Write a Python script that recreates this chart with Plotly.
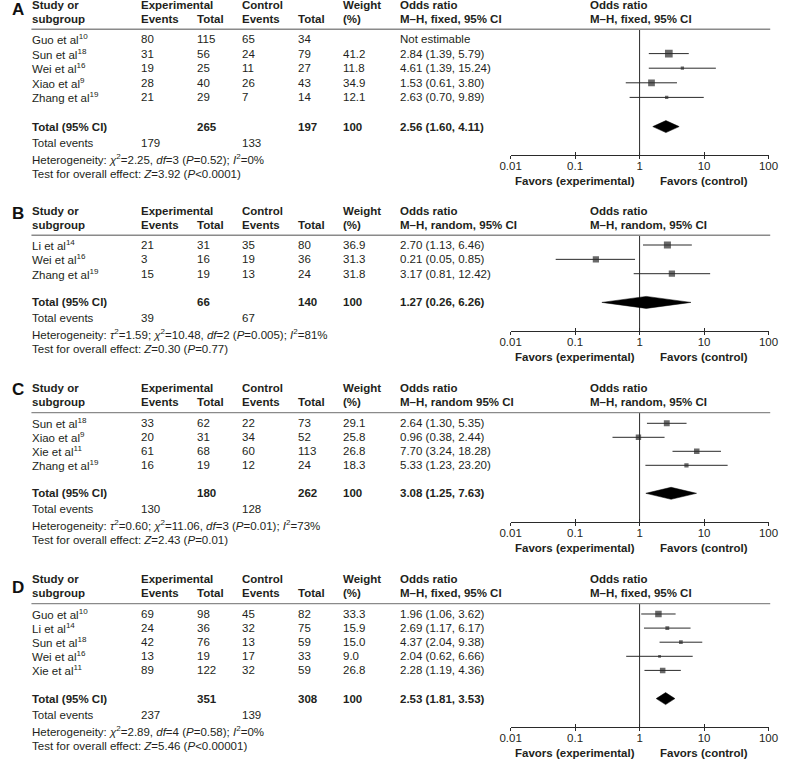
import math
import plotly.graph_objects as go

W, H = 788, 760

# ---------------- data ----------------
A_study = ["Guo et al", "Sun et al", "Wei et al", "Xiao et al", "Zhang et al"]
A_ref = ["10", "18", "16", "9", "19"]
A_exp_events = [80, 31, 19, 28, 21]
A_exp_total = [115, 56, 25, 40, 29]
A_ctl_events = [65, 24, 11, 26, 7]
A_ctl_total = [34, 79, 27, 43, 14]
A_weight = [None, 41.2, 11.8, 34.9, 12.1]
A_or = [None, 2.84, 4.61, 1.53, 2.63]
A_lo = [None, 1.39, 1.39, 0.61, 0.70]
A_hi = [None, 5.79, 15.24, 3.80, 9.89]
A_totals = [265, 197, 100]
A_total_or = [2.56, 1.60, 4.11]
A_total_events = [179, 133]
A_method = ["M–H, fixed, 95% CI", "M–H, fixed, 95% CI"]
A_het = "Heterogeneity: <i>χ</i><sup>2</sup>=2.25, <i>df</i>=3 (<i>P</i>=0.52); <i>I</i><sup>2</sup>=0%"
A_test = "Test for overall effect: <i>Z</i>=3.92 (<i>P</i>&lt;0.0001)"

B_study = ["Li et al", "Wei et al", "Zhang et al"]
B_ref = ["14", "16", "19"]
B_exp_events = [21, 3, 15]
B_exp_total = [31, 16, 19]
B_ctl_events = [35, 19, 13]
B_ctl_total = [80, 36, 24]
B_weight = [36.9, 31.3, 31.8]
B_or = [2.70, 0.21, 3.17]
B_lo = [1.13, 0.05, 0.81]
B_hi = [6.46, 0.85, 12.42]
B_totals = [66, 140, 100]
B_total_or = [1.27, 0.26, 6.26]
B_total_events = [39, 67]
B_method = ["M–H, random, 95% CI", "M–H, random, 95% CI"]
B_het = ("Heterogeneity: <i>τ</i><sup>2</sup>=1.59; <i>χ</i><sup>2</sup>=10.48, <i>df</i>=2 "
         "(<i>P</i>=0.005); <i>I</i><sup>2</sup>=81%")
B_test = "Test for overall effect: <i>Z</i>=0.30 (<i>P</i>=0.77)"

C_study = ["Sun et al", "Xiao et al", "Xie et al", "Zhang et al"]
C_ref = ["18", "9", "11", "19"]
C_exp_events = [33, 20, 61, 16]
C_exp_total = [62, 31, 68, 19]
C_ctl_events = [22, 34, 60, 12]
C_ctl_total = [73, 52, 113, 24]
C_weight = [29.1, 25.8, 26.8, 18.3]
C_or = [2.64, 0.96, 7.70, 5.33]
C_lo = [1.30, 0.38, 3.24, 1.23]
C_hi = [5.35, 2.44, 18.28, 23.20]
C_totals = [180, 262, 100]
C_total_or = [3.08, 1.25, 7.63]
C_total_events = [130, 128]
C_method = ["M–H, random 95% CI", "M–H, random, 95% CI"]
C_het = ("Heterogeneity: <i>τ</i><sup>2</sup>=0.60; <i>χ</i><sup>2</sup>=11.06, <i>df</i>=3 "
         "(<i>P</i>=0.01); <i>I</i><sup>2</sup>=73%")
C_test = "Test for overall effect: <i>Z</i>=2.43 (<i>P</i>=0.01)"

D_study = ["Guo et al", "Li et al", "Sun et al", "Wei et al", "Xie et al"]
D_ref = ["10", "14", "18", "16", "11"]
D_exp_events = [69, 24, 42, 13, 89]
D_exp_total = [98, 36, 76, 19, 122]
D_ctl_events = [45, 32, 13, 17, 32]
D_ctl_total = [82, 75, 59, 33, 59]
D_weight = [33.3, 15.9, 15.0, 9.0, 26.8]
D_or = [1.96, 2.69, 4.37, 2.04, 2.28]
D_lo = [1.06, 1.17, 2.04, 0.62, 1.19]
D_hi = [3.62, 6.17, 9.38, 6.66, 4.36]
D_totals = [351, 308, 100]
D_total_or = [2.53, 1.81, 3.53]
D_total_events = [237, 139]
D_method = ["M–H, fixed, 95% CI", "M–H, fixed, 95% CI"]
D_het = "Heterogeneity: <i>χ</i><sup>2</sup>=2.89, <i>df</i>=4 (<i>P</i>=0.58); <i>I</i><sup>2</sup>=0%"
D_test = "Test for overall effect: <i>Z</i>=5.46 (<i>P</i>&lt;0.00001)"

tick_vals = [0.01, 0.1, 1, 10, 100]
tick_text = ["0.01", "0.1", "1", "10", "100"]
favors = ["Favors (experimental)", "Favors (control)"]
favors_at = [0.1, 10]
NULL_OR = 1

panels = [
    dict(letter="A", study=A_study, ref=A_ref, ee=A_exp_events, et=A_exp_total, ce=A_ctl_events,
         ct=A_ctl_total, w=A_weight, orv=A_or, lo=A_lo, hi=A_hi, tot=A_totals, tor=A_total_or,
         tev=A_total_events, method=A_method, het=A_het, test=A_test),
    dict(letter="B", study=B_study, ref=B_ref, ee=B_exp_events, et=B_exp_total, ce=B_ctl_events,
         ct=B_ctl_total, w=B_weight, orv=B_or, lo=B_lo, hi=B_hi, tot=B_totals, tor=B_total_or,
         tev=B_total_events, method=B_method, het=B_het, test=B_test),
    dict(letter="C", study=C_study, ref=C_ref, ee=C_exp_events, et=C_exp_total, ce=C_ctl_events,
         ct=C_ctl_total, w=C_weight, orv=C_or, lo=C_lo, hi=C_hi, tot=C_totals, tor=C_total_or,
         tev=C_total_events, method=C_method, het=C_het, test=C_test),
    dict(letter="D", study=D_study, ref=D_ref, ee=D_exp_events, et=D_exp_total, ce=D_ctl_events,
         ct=D_ctl_total, w=D_weight, orv=D_or, lo=D_lo, hi=D_hi, tot=D_totals, tor=D_total_or,
         tev=D_total_events, method=D_method, het=D_het, test=D_test),
]

# ---------------- layout geometry (pixels) ----------------
geom = [
    dict(head=5.0, first=39.0, step=14.6, letter_y=9.5),
    dict(head=211.0, first=245.0, step=14.35, letter_y=213.3),
    dict(head=388.3, first=423.3, step=14.0, letter_y=389.3),
    dict(head=579.3, first=614.0, step=14.1, letter_y=587.5),
]
COL = dict(study=21.0, ee=132.6, et=190.0, ce=236.6, ct=294.3, wt=340.0, ortx=398.8, plot=593.6)
PLOT_X0, PLOT_X1 = 513.3, 778.3
LINE_X0, LINE_X1 = 21.0, 780.0

FONT = "Liberation Sans, Arial, Helvetica, sans-serif"
TXT = "#231f20"
DARK = "#2a2a2a"
FS = 11.5

annotations = []
shapes = []
fig = go.Figure()


def py(y):
    return 1 - y / H


def text(x, y, s, bold=False, size=FS, anchor="left", xref="paper", color=TXT):
    if bold:
        s = f"<b>{s}</b>"
    annotations.append(dict(x=x / W if xref == "paper" else x, y=py(y), xref=xref, yref="paper",
                            text=s, showarrow=False, xanchor=anchor, yanchor="middle",
                            borderpad=0, font=dict(family=FONT, size=size, color=color)))


def fmt_ci(o, l, h):
    return f"{o:.2f} ({l:.2f}, {h:.2f})"


for k, (p, g) in enumerate(zip(panels, geom), start=1):
    n = len(p["study"])
    head, first, step = g["head"], g["first"], g["step"]
    head2 = head + 14
    line_y = head + 24.3
    total_y = first + (n + 1) * step
    axis_y = total_y + 28.5

    def row_px(i):
        return first + i * step

    # panel letter
    text(0.0, g["letter_y"], p["letter"], bold=True, size=17, color="#111")
    # header
    text(COL["study"], head, "Study or", bold=True)
    text(COL["study"], head2, "subgroup", bold=True)
    text(COL["ee"], head, "Experimental", bold=True)
    text(COL["ee"], head2, "Events", bold=True)
    text(COL["et"], head2, "Total", bold=True)
    text(COL["ce"], head, "Control", bold=True)
    text(COL["ce"], head2, "Events", bold=True)
    text(COL["ct"], head2, "Total", bold=True)
    text(COL["wt"], head, "Weight", bold=True)
    text(COL["wt"], head2, "(%)", bold=True)
    text(COL["ortx"], head, "Odds ratio", bold=True)
    text(COL["ortx"], head2, p["method"][0], bold=True)
    text(COL["plot"], head, "Odds ratio", bold=True)
    text(COL["plot"], head2, p["method"][1], bold=True)
    shapes.append(dict(type="line", xref="paper", yref="paper", x0=LINE_X0 / W, x1=LINE_X1 / W,
                       y0=py(line_y), y1=py(line_y), line=dict(color="#8a8a8a", width=1.4)))

    # study rows
    for i in range(n):
        y = row_px(i)
        text(COL["study"], y, f"{p['study'][i]}<sup>{p['ref'][i]}</sup>")
        text(COL["ee"], y, str(p["ee"][i]))
        text(COL["et"], y, str(p["et"][i]))
        text(COL["ce"], y, str(p["ce"][i]))
        text(COL["ct"], y, str(p["ct"][i]))
        if p["w"][i] is not None:
            text(COL["wt"], y, f"{p['w'][i]:.1f}")
            text(COL["ortx"], y, fmt_ci(p["orv"][i], p["lo"][i], p["hi"][i]))
        else:
            text(COL["ortx"], y, "Not estimable")

    # totals
    text(COL["study"], total_y, "Total (95% CI)", bold=True)
    text(COL["et"], total_y, str(p["tot"][0]), bold=True)
    text(COL["ct"], total_y, str(p["tot"][1]), bold=True)
    text(COL["wt"], total_y, str(p["tot"][2]), bold=True)
    text(COL["ortx"], total_y, fmt_ci(*p["tor"]), bold=True)
    text(COL["study"], total_y + 16, "Total events")
    text(COL["ee"], total_y + 16, str(p["tev"][0]))
    text(COL["ce"], total_y + 16, str(p["tev"][1]))
    text(COL["study"], total_y + 32, p["het"])
    text(COL["study"], total_y + 47, p["test"])

    # axes
    xs = "" if k == 1 else str(k)
    xname, yname = f"xaxis{xs}", f"yaxis{xs}"
    xref, yref = f"x{xs}", f"y{xs}"
    ov = str(k + 4)
    r_top = (line_y - first) / step
    r_bot = (axis_y - first) / step
    fig.update_layout(**{
        xname: dict(type="log", range=[-2, 2], domain=[PLOT_X0 / W, PLOT_X1 / W], anchor=yref,
                    showline=True, linecolor=DARK, linewidth=1, ticks="outside", ticklen=3,
                    tickwidth=1, tickcolor=DARK, tickvals=tick_vals, ticktext=tick_text,
                    ticklabelstandoff=-3,
                    tickfont=dict(family=FONT, size=FS, color=TXT), showgrid=False,
                    zeroline=False, fixedrange=True),
        yname: dict(domain=[py(axis_y), py(line_y)], range=[r_bot, r_top], visible=False,
                    anchor=xref, showgrid=False, zeroline=False, fixedrange=True),
        f"xaxis{ov}": dict(type="log", range=[-2, 2], domain=[PLOT_X0 / W, PLOT_X1 / W],
                           anchor=yref, overlaying=xref, showline=False, ticks="inside",
                           ticklen=3, tickwidth=1, tickcolor=DARK, tickvals=tick_vals,
                           showticklabels=False, showgrid=False, zeroline=False,
                           fixedrange=True),
    })
    fig.add_trace(go.Scatter(x=[1], y=[0], xaxis=f"x{ov}", yaxis=yref, mode="markers",
                             marker=dict(opacity=0), hoverinfo="skip", showlegend=False))

    # null line (OR = 1): shape in axis coordinates (log axis -> log10 value)
    shapes.append(dict(type="line", xref=xref, yref="paper",
                       x0=math.log10(NULL_OR), x1=math.log10(NULL_OR),
                       y0=py(axis_y), y1=py(line_y), layer="above",
                       line=dict(color=DARK, width=1)))

    # CI lines (plus the null line as a trace segment) and squares
    cx, cy, mx, my, ms = [NULL_OR, NULL_OR, None], [r_bot, r_top, None], [], [], []
    for i in range(n):
        if p["orv"][i] is None:
            continue
        cx += [p["lo"][i], p["hi"][i], None]
        cy += [i, i, None]
        mx.append(p["orv"][i])
        my.append(i)
        ms.append(1.5 + 0.15 * p["w"][i])
    fig.add_trace(go.Scatter(x=cx, y=cy, xaxis=xref, yaxis=yref, mode="lines",
                             line=dict(color=DARK, width=1), hoverinfo="skip", showlegend=False))
    fig.add_trace(go.Scatter(x=mx, y=my, xaxis=xref, yaxis=yref, mode="markers",
                             marker=dict(symbol="square", size=ms, color=DARK, line=dict(width=0)),
                             showlegend=False))

    # diamond
    est, lo, hi = p["tor"]
    tr = n + 1
    hh = 6.0 / step
    fig.add_trace(go.Scatter(x=[lo, est, hi, est, lo], y=[tr, tr - hh, tr, tr + hh, tr],
                             xaxis=xref, yaxis=yref, mode="lines", fill="toself",
                             fillcolor="#000000", line=dict(color="#000000", width=0.5),
                             hoverinfo="skip", showlegend=False))

    # favors labels
    for lab, at in zip(favors, favors_at):
        annotations.append(dict(x=math.log10(at), y=py(axis_y + 26), xref=xref, yref="paper",
                                text=f"<b>{lab}</b>", showarrow=False, xanchor="center",
                                yanchor="middle", font=dict(family=FONT, size=FS, color=TXT)))

fig.update_layout(width=W, height=H, margin=dict(l=0, r=0, t=0, b=0),
                  plot_bgcolor="white", paper_bgcolor="white", showlegend=False,
                  annotations=annotations, shapes=shapes)

fig.write_html("out.html", config={"displayModeBar": False},
               post_script="document.body.style.margin='0';document.body.style.padding='0';"
                           "document.body.style.overflow='hidden';")
